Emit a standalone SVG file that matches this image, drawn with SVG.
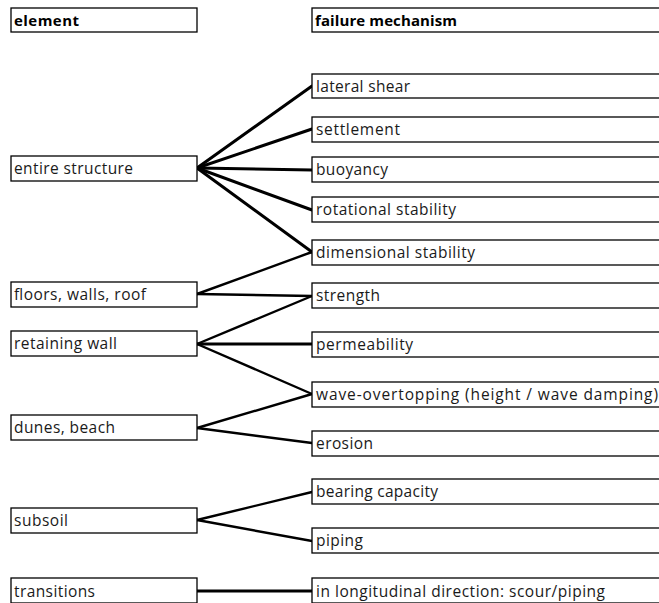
<svg xmlns="http://www.w3.org/2000/svg" width="659" height="603" viewBox="0 0 659 603">
<style>
rect{fill:#fff;stroke:#000;stroke-width:1.3}
text{font-family:"Open Sans","Liberation Sans",sans-serif;font-size:15.5px;fill:#1a1a1a}
.h{font-weight:bold;fill:#000;font-size:15px}
#connectors line{stroke:#000;stroke-width:2.4;stroke-linecap:round}
#connectors .t{stroke-width:3}
</style>
<rect x="0" y="0" width="659" height="603" style="fill:#fff;stroke:none"/>
<g id="connectors">
<line class="t" x1="197" y1="168" x2="312" y2="86"/>
<line class="t" x1="197" y1="168" x2="312" y2="129"/>
<line class="t" x1="197" y1="168" x2="312" y2="170"/>
<line class="t" x1="197" y1="168" x2="312" y2="210"/>
<line class="t" x1="197" y1="168" x2="312" y2="252"/>
<line x1="197" y1="294" x2="312" y2="252"/>
<line x1="197" y1="294" x2="312" y2="296"/>
<line x1="197" y1="344" x2="312" y2="296"/>
<line class="t" x1="197" y1="344" x2="312" y2="344"/>
<line x1="197" y1="344" x2="312" y2="394"/>
<line x1="197" y1="428" x2="312" y2="394"/>
<line x1="197" y1="428" x2="312" y2="443"/>
<line x1="197" y1="520" x2="312" y2="492"/>
<line x1="197" y1="520" x2="312" y2="541"/>
<line class="t" x1="197" y1="591" x2="312" y2="591"/>
</g>
<g id="element"><rect x="11" y="8" width="186" height="24"/><text class="h" x="14" y="26" textLength="65">element</text></g>
<g id="failure-mechanism"><rect x="312" y="8" width="350" height="24"/><text class="h" x="315" y="26" textLength="142">failure mechanism</text></g>
<g id="entire-structure"><rect x="11" y="156" width="186" height="25"/><text x="14" y="174" textLength="119">entire structure</text></g>
<g id="floors-walls-roof"><rect x="11" y="282" width="186" height="25"/><text x="14" y="300" textLength="132">floors, walls, roof</text></g>
<g id="retaining-wall"><rect x="11" y="331" width="186" height="25"/><text x="14" y="349" textLength="103">retaining wall</text></g>
<g id="dunes-beach"><rect x="11" y="415" width="186" height="25"/><text x="14" y="433" textLength="101">dunes, beach</text></g>
<g id="subsoil"><rect x="11" y="508" width="186" height="25"/><text x="14" y="526" textLength="54">subsoil</text></g>
<g id="transitions"><rect x="11" y="578" width="186" height="25"/><text x="14" y="597" textLength="81">transitions</text></g>
<g id="lateral-shear"><rect x="312" y="74" width="350" height="24"/><text x="316" y="92" textLength="94">lateral shear</text></g>
<g id="settlement"><rect x="312" y="117" width="350" height="25"/><text x="316" y="135" textLength="84">settlement</text></g>
<g id="buoyancy"><rect x="312" y="157" width="350" height="25"/><text x="316" y="175" textLength="72">buoyancy</text></g>
<g id="rotational-stability"><rect x="312" y="197" width="350" height="25"/><text x="316" y="215" textLength="140">rotational stability</text></g>
<g id="dimensional-stability"><rect x="312" y="240" width="350" height="25"/><text x="316" y="258" textLength="159">dimensional stability</text></g>
<g id="strength"><rect x="312" y="283" width="350" height="25"/><text x="316" y="301" textLength="64">strength</text></g>
<g id="permeability"><rect x="312" y="332" width="350" height="25"/><text x="316" y="350" textLength="97">permeability</text></g>
<g id="wave-overtopping"><rect x="312" y="382" width="350" height="25"/><text x="316" y="400" textLength="342">wave-overtopping  (height / wave damping)</text></g>
<g id="erosion"><rect x="312" y="431" width="350" height="25"/><text x="316" y="449" textLength="57">erosion</text></g>
<g id="bearing-capacity"><rect x="312" y="479" width="350" height="25"/><text x="316" y="497" textLength="122">bearing capacity</text></g>
<g id="piping"><rect x="312" y="528" width="350" height="25"/><text x="316" y="546" textLength="47">piping</text></g>
<g id="longitudinal"><rect x="312" y="578" width="350" height="25"/><text x="316" y="597" textLength="289">in longitudinal direction: scour/piping</text></g>
</svg>
